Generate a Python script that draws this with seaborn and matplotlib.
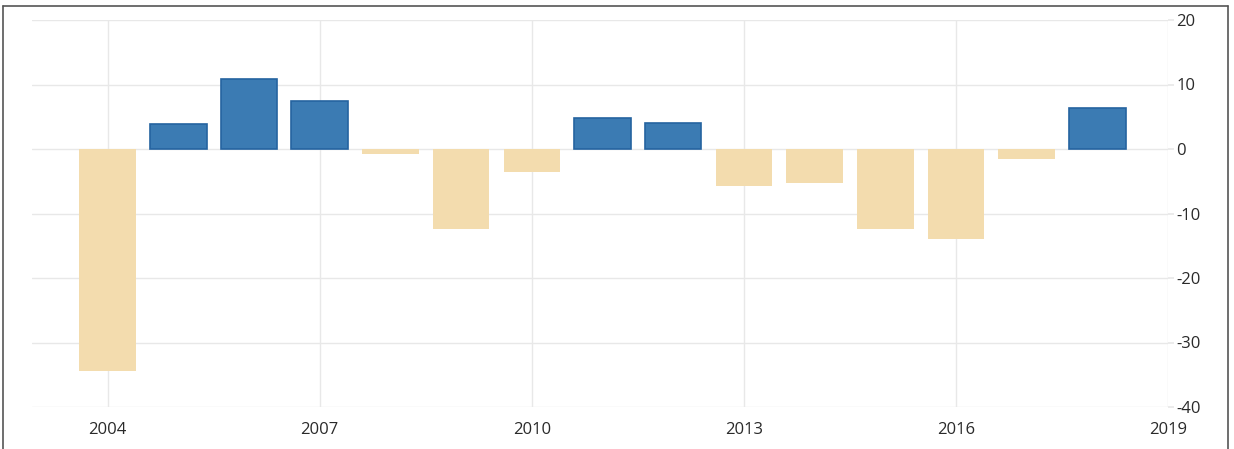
import matplotlib
matplotlib.use("Agg")
import matplotlib.pyplot as plt
import seaborn as sns
import pandas as pd
from matplotlib.lines import Line2D

years = [2004, 2005, 2006, 2007, 2008, 2009, 2010, 2011, 2012, 2013, 2014, 2015, 2016, 2017, 2018]
values = [-34.4, 3.9, 10.8, 7.4, -0.7, -12.4, -3.5, 4.8, 4.1, -5.8, -5.3, -12.4, -13.9, -1.5, 6.3]
x_ticks = [2004, 2007, 2010, 2013, 2016, 2019]
y_ticks = [20, 10, 0, -10, -20, -30, -40]

BLUE = "#3b7bb3"
BLUE_EDGE = "#2563a0"
TAN = "#f3dcae"

sns.set_theme(style="white")
plt.rcParams["font.family"] = ["Open Sans", "DejaVu Sans"]
plt.rcParams["axes.unicode_minus"] = False

df = pd.DataFrame({"year": years, "value": values})
df["sign"] = ["pos" if v >= 0 else "neg" for v in values]

fig = plt.figure(figsize=(12.34, 4.49), dpi=100)
ax = fig.add_axes([32 / 1234, 1 - 407 / 449, (1168 - 32) / 1234, (407 - 20) / 449])

sns.barplot(data=df, x="year", y="value", hue="sign", palette={"pos": BLUE, "neg": TAN},
            native_scale=True, dodge=False, width=0.8, saturation=1, legend=False, ax=ax, zorder=3)

for p in ax.patches:
    if p.get_height() > 0:
        p.set_edgecolor(BLUE_EDGE)
        p.set_linewidth(1.2)
    else:
        p.set_edgecolor(TAN)
        p.set_linewidth(0)

ax.set_xlim(2002.93, 2019.0)
ax.set_ylim(-40, 20)
ax.set_xticks(x_ticks)
ax.set_xticklabels([str(t) for t in x_ticks])
ax.set_yticks(y_ticks)
ax.set_yticklabels([str(t) for t in y_ticks])
ax.yaxis.tick_right()
ax.set_xlabel("")
ax.set_ylabel("")

for s in ax.spines.values():
    s.set_visible(False)

ax.grid(True, color="#e8e8e8", linewidth=1.0, zorder=0)
ax.set_axisbelow(True)
ax.tick_params(axis="x", length=6, color="#e8e8e8", pad=5, labelsize=12, labelcolor="#2a2a2a")
ax.tick_params(axis="y", length=4, color="#e8e8e8", pad=2, labelsize=12, labelcolor="#2a2a2a")

# Outer frame (top, left, right)
fc = "#555555"
fig.add_artist(Line2D([3 / 1234, 3 / 1234], [0, 1 - 6 / 449], transform=fig.transFigure, color=fc, lw=1.2))
fig.add_artist(Line2D([1228 / 1234, 1228 / 1234], [0, 1 - 6 / 449], transform=fig.transFigure, color=fc, lw=1.2))
fig.add_artist(Line2D([3 / 1234, 1228 / 1234], [1 - 6 / 449, 1 - 6 / 449], transform=fig.transFigure, color=fc, lw=1.2))

fig.savefig("out.png", dpi=100)
